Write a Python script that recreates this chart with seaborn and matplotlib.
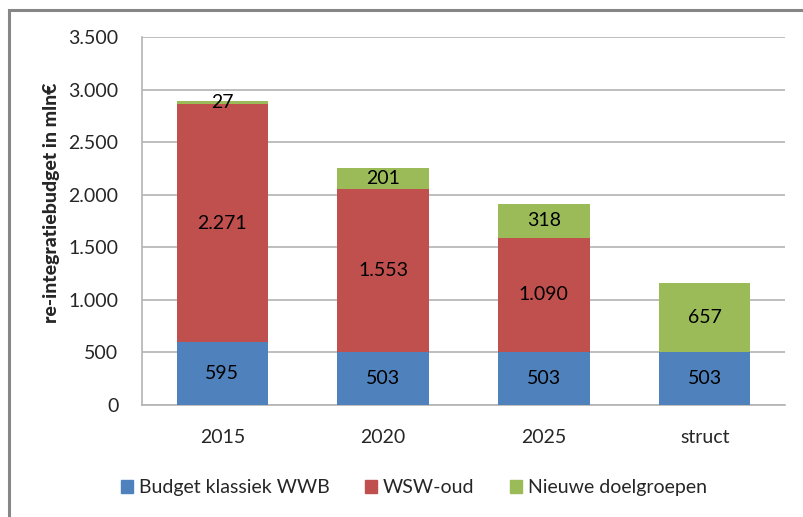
import pandas as pd
import numpy as np
import matplotlib
matplotlib.use('Agg')
import matplotlib.pyplot as plt
import matplotlib.patches as mpatches
import seaborn as sns

categories = ['2015', '2020', '2025', 'struct']
wwb = [595, 503, 503, 503]
wsw_oud = [2271, 1553, 1090, 0]
nieuwe = [27, 201, 318, 657]
series_names = ['Budget klassiek WWB', 'WSW-oud', 'Nieuwe doelgroepen']
yticks = [0, 500, 1000, 1500, 2000, 2500, 3000, 3500]

kleuren = ['#4F81BD', '#C0504D', '#9BBB59']

sns.set_theme(style="white")
plt.rcParams['font.family'] = ['Lato', 'DejaVu Sans']

df = pd.DataFrame({'jaar': categories, 'wwb': wwb, 'wsw': wsw_oud, 'nieuw': nieuwe})

fig = plt.figure(figsize=(8.04, 5.17), dpi=100)
ax = fig.add_axes([0.1766, 0.2166, 0.7998, 0.7118])

# outer frame of the chart area (cut off at right/bottom in the reference)
fig.patches.append(mpatches.Rectangle((9 / 804, -0.05), 1.0, 1 - 10 / 517 + 0.05,
                                      transform=fig.transFigure, fill=False,
                                      edgecolor='#868686', linewidth=2.2, zorder=0))

bottom = np.zeros(len(categories))
for kolom, naam, kleur in zip(['wwb', 'wsw', 'nieuw'], series_names, kleuren):
    waarden = df[kolom].values
    sns.barplot(data=df, x='jaar', y=kolom, color=kleur, bottom=bottom, width=0.57,
                ax=ax, label=naam, saturation=1, linewidth=0, zorder=3)
    for i, v in enumerate(waarden):
        if v > 0:
            ax.text(i, bottom[i] + v / 2, f'{v:,}'.replace(',', '.'), ha='center',
                    va='center', fontsize=14, color='black', zorder=4)
    bottom = bottom + waarden

ax.set_ylim(0, 3500)
ax.set_xlim(-0.5, 3.5)
ax.set_yticks(yticks)
ax.set_yticklabels([f'{t:,}'.replace(',', '.') for t in yticks], fontsize=14)
ax.tick_params(axis='x', labelsize=14, length=0, pad=17)
ax.tick_params(axis='y', length=0, pad=17)
ax.yaxis.grid(True, color='#B3B3B3', linewidth=1.2, zorder=0)
ax.set_axisbelow(True)
for s in ['top', 'right']:
    ax.spines[s].set_visible(False)
ax.spines['left'].set_color('#B3B3B3')
ax.spines['bottom'].set_color('#B3B3B3')
ax.spines['left'].set_linewidth(1.2)
ax.spines['bottom'].set_linewidth(1.2)
ax.set_xlabel('')
ax.set_ylabel('re-integratiebudget in mln€', fontsize=14, fontweight='black')
ax.yaxis.set_label_coords(-0.128, 0.55)

handles = [mpatches.Patch(color=k, label=n) for k, n in zip(kleuren, series_names)]
ax.legend(handles=handles, loc='center', bbox_to_anchor=(0.423, -0.225), ncol=3,
          frameon=False, fontsize=14, handlelength=0.6, handleheight=0.6,
          handletextpad=0.3, columnspacing=1.85)

plt.savefig('out.png', dpi=100)
plt.close()
